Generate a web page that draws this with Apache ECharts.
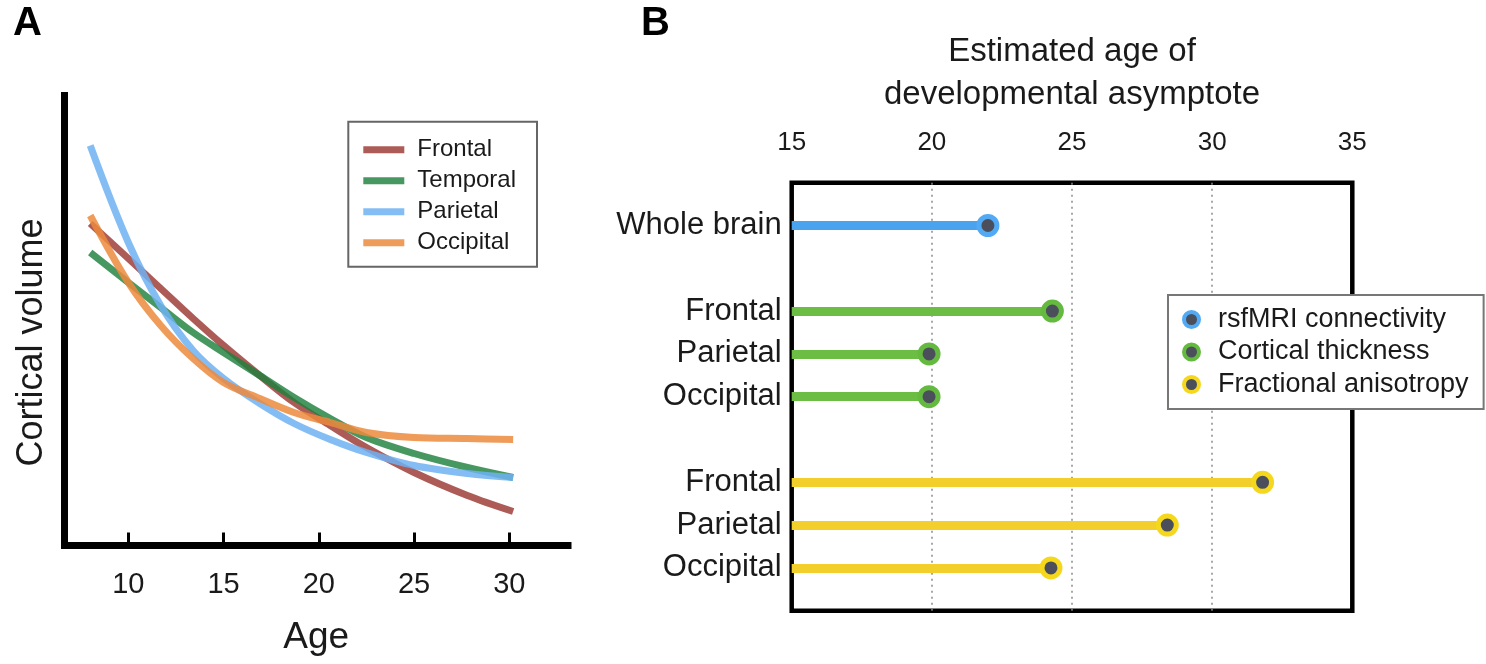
<!DOCTYPE html>
<html>
<head>
<meta charset="utf-8">
<script src="https://cdn.jsdelivr.net/npm/echarts@6/dist/echarts.min.js"></script>
<style>
html,body{margin:0;padding:0;background:#fff;}
#chart{width:1486px;height:664px;}
</style>
</head>
<body>
<div id="chart"></div>
<script>
// ---------- Panel A data ----------
const ages = [8, 10, 11.7, 13.4, 15, 16.9, 18.7, 20.6, 22.5, 25, 27.8, 30.2];
const frontalVol = [322, 287, 257, 227, 200, 170, 143, 120, 98, 73, 50, 34];
const temporalVol = [293, 263, 238, 213, 193, 170, 148, 127, 108, 92, 78, 68];
const parietalVol = [400, 303, 240, 195, 167, 142, 122, 106, 93, 80, 72, 68];
const occipitalVol = [330, 263, 220, 187, 163, 147, 133, 123, 113, 108, 107, 106];
const ageTicks = [10, 15, 20, 25, 30];
const regionNames = ['Frontal', 'Temporal', 'Parietal', 'Occipital'];

// ---------- Panel B data ----------
const rowLabels = ['Whole brain', '', 'Frontal', 'Parietal', 'Occipital', '', 'Frontal', 'Parietal', 'Occipital'];
const measureNames = ['rsfMRI connectivity', 'Cortical thickness', 'Fractional anisotropy'];
const rsfRows = [0];
const rsfAges = [22.0];
const thickRows = [2, 3, 4];
const thickAges = [24.3, 19.9, 19.9];
const faRows = [6, 7, 8];
const faAges = [31.8, 28.4, 24.25];
const asymTicks = [15, 20, 25, 30, 35];

const FONT = 'Liberation Sans, Arial, Helvetica, sans-serif';
const TXT = '#1a1a1a';
const DOT = '#4b4f5b';

const regionColors = ['rgba(150,45,40,0.78)', 'rgba(30,128,62,0.82)', 'rgba(110,178,242,0.85)', 'rgba(236,138,60,0.85)'];
const measureColors = ['#4aa3ee', '#6bbd44', '#f2cf2b'];
const ringColors = ['#52aaf4', '#64ba3e', '#f5d81c'];

const regionVals = [frontalVol, temporalVol, parietalVol, occipitalVol];
const pairs = (xs, ys) => xs.map((x, i) => [x, ys[i]]);

const lineSeriesA = regionNames.map((n, i) => ({
  name: n,
  type: 'line',
  xAxisIndex: 0,
  yAxisIndex: 0,
  data: pairs(ages, regionVals[i]),
  smooth: 0.35,
  showSymbol: false,
  symbol: 'none',
  color: regionColors[i],
  lineStyle: { width: 7, color: regionColors[i], cap: 'butt' },
  itemStyle: { color: regionColors[i] },
  z: 3
}));

const bRows = [rsfRows, thickRows, faRows];
const bAges = [rsfAges, thickAges, faAges];
const xMinB = asymTicks[0];

const stemSeries = measureNames.map((n, i) => ({
  name: n + ' stem',
  type: 'lines',
  coordinateSystem: 'cartesian2d',
  xAxisIndex: 1,
  yAxisIndex: 1,
  polyline: false,
  silent: true,
  lineStyle: { width: 9, color: measureColors[i], opacity: 1, curveness: 0, cap: 'butt' },
  data: bRows[i].map((r, k) => ({ coords: [[xMinB, r], [bAges[i][k], r]] })),
  z: 3
}));

const dotSeries = measureNames.map((n, i) => ({
  name: n,
  type: 'scatter',
  xAxisIndex: 1,
  yAxisIndex: 1,
  symbol: 'circle',
  symbolSize: 18,
  itemStyle: { color: DOT, borderColor: ringColors[i], borderWidth: 5, opacity: 1 },
  data: bRows[i].map((r, k) => [bAges[i][k], r]),
  z: 5
}));

const option = {
  animation: false,
  backgroundColor: '#fff',
  textStyle: { fontFamily: FONT },
  graphic: [
    { type: 'text', left: 13, top: 4, style: { text: 'A', font: 'bold 40px ' + FONT, fill: '#000' } },
    { type: 'text', left: 641, top: 4, style: { text: 'B', font: 'bold 40px ' + FONT, fill: '#000' } }
  ],
  grid: [
    { left: 64.5, top: 95.5, width: 503.5, height: 450, containLabel: false, outerBoundsMode: 'none' },
    { left: 791.7, top: 182.7, width: 560.6, height: 428, containLabel: false, outerBoundsMode: 'none',
      show: true, borderColor: '#000', borderWidth: 4.5, backgroundColor: 'transparent' }
  ],
  xAxis: [
    {
      gridIndex: 0, type: 'value', min: 6.65, max: 33.08,
      axisLine: { show: true, onZero: false, lineStyle: { color: '#000', width: 7, cap: 'square' } },
      axisTick: { show: true, inside: true, length: 13, customValues: ageTicks, lineStyle: { color: '#000', width: 3 } },
      axisLabel: { show: true, customValues: ageTicks, margin: 25, fontSize: 29, color: TXT, fontFamily: FONT },
      splitLine: { show: false },
      name: 'Age', nameLocation: 'middle', nameGap: 74,
      nameTextStyle: { fontSize: 37, color: TXT, fontFamily: FONT }
    },
    {
      gridIndex: 1, type: 'value', position: 'top', min: asymTicks[0], max: asymTicks[asymTicks.length - 1], interval: 5,
      axisLine: { show: false },
      axisTick: { show: false },
      axisLabel: { show: true, margin: 27, fontSize: 26, color: TXT, fontFamily: FONT },
      splitLine: { show: true, showMinLine: false, showMaxLine: false, lineStyle: { color: '#8a8a8a', width: 1.5, type: [2, 4] } },
      name: 'Estimated age of\ndevelopmental asymptote', nameLocation: 'middle', nameGap: 66,
      nameTextStyle: { fontSize: 33, lineHeight: 43, color: TXT, fontFamily: FONT }
    }
  ],
  yAxis: [
    {
      gridIndex: 0, type: 'value', min: 0, max: 450,
      axisLine: { show: true, onZero: false, lineStyle: { color: '#000', width: 7, cap: 'square' } },
      axisTick: { show: false }, axisLabel: { show: false }, splitLine: { show: false },
      name: 'Cortical volume', nameLocation: 'middle', nameGap: 14,
      nameTextStyle: { fontSize: 36, color: TXT, fontFamily: FONT, padding: [0, 44, 0, 0] }
    },
    {
      gridIndex: 1, type: 'value', min: -1, max: 9, interval: 1, inverse: true,
      axisLine: { show: false }, axisTick: { show: false }, splitLine: { show: false },
      axisLabel: {
        show: true, margin: 10, fontSize: 31, color: TXT, fontFamily: FONT,
        formatter: v => rowLabels[v] || ''
      }
    }
  ],
  legend: [
    {
      data: regionNames.map(n => ({ name: n, icon: 'rect' })),
      orient: 'vertical', left: 348.3, top: 121.7,
      padding: [16, 21, 12, 15], itemGap: 7, itemWidth: 41, itemHeight: 7,
      borderColor: '#666', borderWidth: 2, backgroundColor: '#fff',
      textStyle: { fontSize: 24, color: TXT, fontFamily: FONT, padding: [0, 0, 0, 8] },
      selectedMode: false
    },
    {
      data: measureNames.map((n, i) => ({
        name: n, icon: 'circle',
        itemStyle: { color: DOT, borderColor: ringColors[i], borderWidth: 4 }
      })),
      orient: 'vertical', left: 1168, top: 295,
      padding: [11, 15, 11, 14], itemGap: 5.5, itemWidth: 43, itemHeight: 15,
      borderColor: '#777', borderWidth: 2, backgroundColor: '#fff',
      textStyle: { fontSize: 27, color: TXT, fontFamily: FONT },
      selectedMode: false, z: 10
    }
  ],
  series: [...lineSeriesA, ...stemSeries, ...dotSeries]
};

const chart = echarts.init(document.getElementById('chart'), null, { renderer: 'canvas' });
chart.setOption(option);
</script>
</body>
</html>
